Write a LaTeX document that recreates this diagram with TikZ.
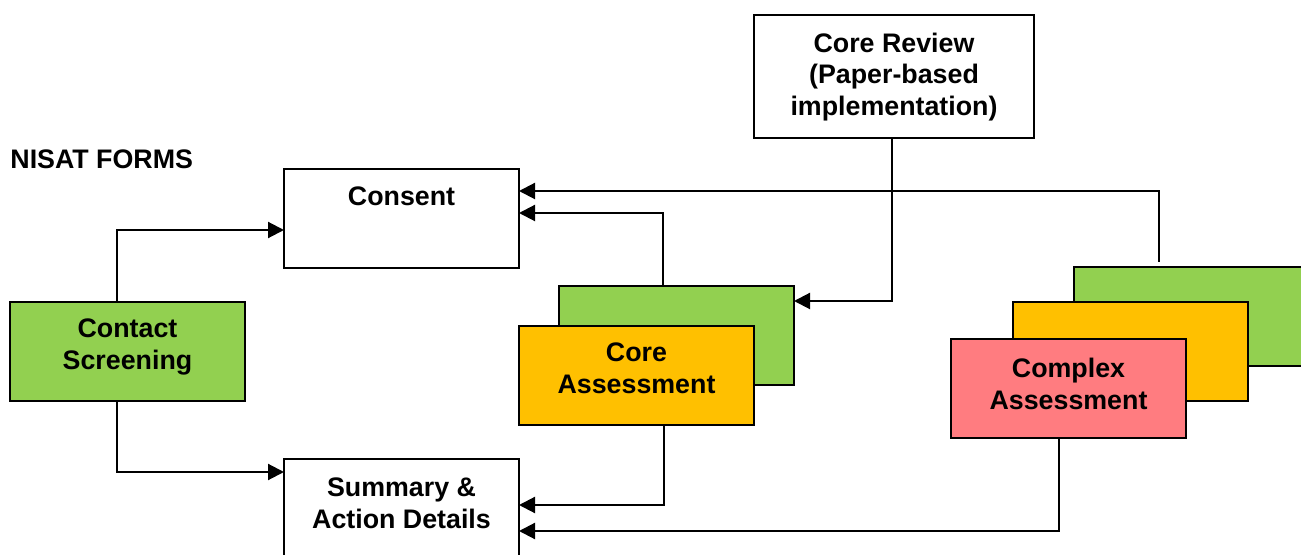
\documentclass[tikz,border=0pt]{standalone}
\usepackage{fontspec}
\setmainfont{Liberation Sans}
\usetikzlibrary{arrows.meta}
\definecolor{formgreen}{HTML}{92D050}
\definecolor{formamber}{HTML}{FFC000}
\definecolor{formpink}{HTML}{FF7C80}
\tikzset{
  formbox/.style={draw=black, line width=1.15pt, rectangle, anchor=north west,
    minimum width=117.5pt, minimum height=49.5pt, inner sep=0pt, outer sep=0pt},
  formtext/.style={anchor=north, inner sep=0pt, align=center,
    font=\fontsize{13.4}{15.75}\selectfont\bfseries},
  link/.style={draw=black, line width=1.05pt, -{Triangle[length=8pt,width=8pt]}},
}
\begin{document}
\begin{tikzpicture}[x=0.5pt,y=-0.5pt]
\useasboundingbox (0,0) rectangle (1301,555);
\clip (0,0) rectangle (1301,555);
\fill[white] (0,0) rectangle (1301,555);

% heading
\node[anchor=west, inner sep=0pt, font=\fontsize{13.4}{15.75}\selectfont\bfseries] (title) at (10,159) {NISAT FORMS};

% white forms
\node[formbox, fill=white, minimum width=140pt, minimum height=61.5pt] (review) at (754,15) {};
\node[formtext] (reviewtxt) at ([yshift=-8.6pt]review.north) {Core Review\\(Paper-based\\implementation)};

\node[formbox, fill=white] (consent) at (284,169) {};
\node[formtext] (consenttxt) at ([yshift=-8.7pt]consent.north) {Consent};

\node[formbox, fill=white, minimum height=60pt] (summary) at (284,459) {};
\node[formtext] (summarytxt) at ([yshift=-9.2pt]summary.north) {Summary \&\\Action Details};

% contact screening
\node[formbox, fill=formgreen] (contact) at (10,302) {};
\node[formtext] (contacttxt) at ([yshift=-8.4pt]contact.north) {Contact\\Screening};

% core assessment stack
\node[formbox, fill=formgreen] (coreback) at (559,286) {};
\node[formbox, fill=formamber] (core) at (519,326) {};
\node[formtext] (coretxt) at ([yshift=-8.4pt]core.north) {Core\\Assessment};

% complex assessment stack
\node[formbox, fill=formgreen] (cxback) at (1074,267) {};
\node[formbox, fill=formamber] (cxmid) at (1013,302) {};
\node[formbox, fill=formpink] (complex) at (951,339) {};
\node[formtext] (complextxt) at ([yshift=-9.4pt]complex.north) {Complex\\Assessment};

% connectors
\draw[link] ([xshift=-5.25pt]contact.north) |- ([yshift=-5.75pt]consent.west);
\draw[link] ([xshift=-5.25pt]contact.south) |- ([yshift=-6.5pt]summary.north west);
\draw[link] ([xshift=-6.75pt]coreback.north) |- ([yshift=2.75pt]consent.east);
\coordinate (cxtop) at ([xshift=42.5pt,yshift=2.5pt]cxback.north west);
\draw[link] (cxtop) |- ([yshift=13.75pt]consent.east);
\draw[link] ([xshift=-1pt]review.south) |- ([yshift=17.25pt]coreback.east);
\draw[link] ([xshift=13.75pt]core.south) |- ([yshift=-23pt]summary.north east);
\draw[link] ([xshift=-4.75pt]complex.south) |- ([yshift=-36pt]summary.north east);
\end{tikzpicture}
\end{document}
